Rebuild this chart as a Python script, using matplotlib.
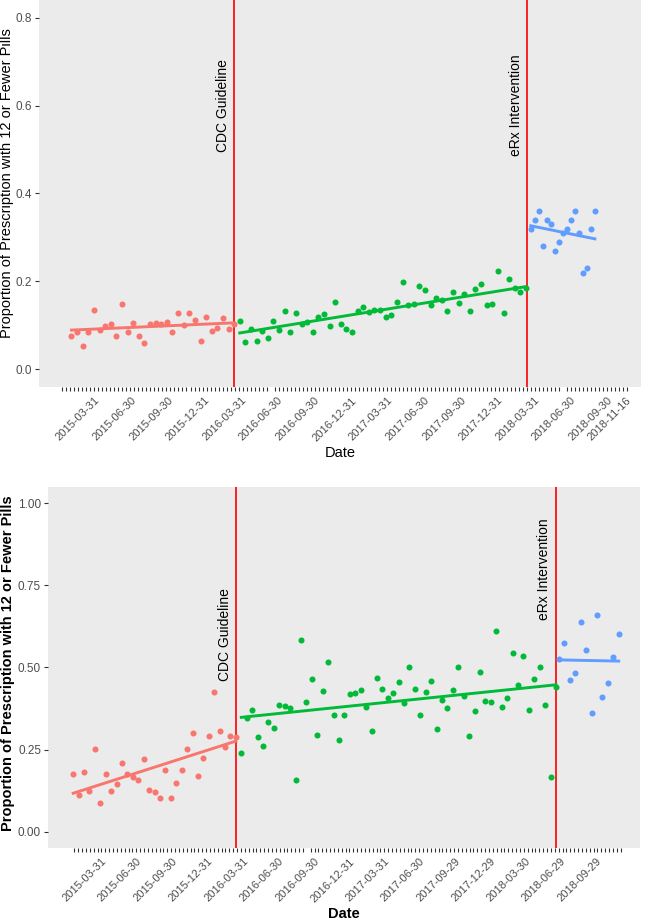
import numpy as np
import pandas as pd
import matplotlib
matplotlib.use('Agg')
import matplotlib.pyplot as plt
import matplotlib.dates as mdates
from matplotlib.transforms import ScaledTranslation

plt.rcParams['font.family'] = ['Liberation Sans', 'DejaVu Sans']

RED, GREEN, BLUE = '#F8766D', '#00BA38', '#619CFF'

# ---- panel 1 (top) : proportions per period
top_pre = [0.077, 0.085, 0.053, 0.086, 0.134, 0.089, 0.099, 0.103, 0.075, 0.149,
           0.086, 0.106, 0.076, 0.060, 0.103, 0.106, 0.103, 0.108, 0.084, 0.129,
           0.100, 0.129, 0.113, 0.065, 0.120, 0.087, 0.094, 0.116, 0.091, 0.104]
top_cdc = [0.111, 0.062, 0.091, 0.065, 0.087, 0.071, 0.111, 0.090, 0.133, 0.086,
           0.129, 0.103, 0.108, 0.086, 0.119, 0.126, 0.098, 0.153, 0.103, 0.091,
           0.086, 0.133, 0.141, 0.130, 0.136, 0.136, 0.119, 0.123, 0.153, 0.198,
           0.146, 0.148, 0.190, 0.181, 0.146, 0.163, 0.157, 0.132, 0.177, 0.151,
           0.171, 0.133, 0.183, 0.195, 0.147, 0.148, 0.224, 0.129, 0.206, 0.186,
           0.176, 0.184]
top_erx = [0.32, 0.34, 0.36, 0.28, 0.34, 0.33, 0.27, 0.29, 0.31, 0.32, 0.34, 0.36,
           0.31, 0.22, 0.23, 0.32, 0.36]
top_starts = ['2015-02-19', '2016-04-14', '2018-04-10']
top_freqs = ['14D', '14D', '10D']
top_events = ['2016-03-31', '2018-03-31']
top_labels = ['2015-03-31', '2015-06-30', '2015-09-30', '2015-12-31', '2016-03-31',
              '2016-06-30', '2016-09-30', '2016-12-31', '2017-03-31', '2017-06-30',
              '2017-09-30', '2017-12-31', '2018-03-31', '2018-06-30', '2018-09-30',
              '2018-11-16']

# ---- panel 2 (bottom)
bot_pre = [0.175, 0.113, 0.182, 0.124, 0.251, 0.088, 0.177, 0.123, 0.146, 0.208,
           0.175, 0.167, 0.157, 0.222, 0.128, 0.121, 0.101, 0.188, 0.101, 0.147,
           0.189, 0.251, 0.299, 0.170, 0.225, 0.291, 0.425, 0.305, 0.258, 0.290,
           0.288]
bot_cdc = [0.239, 0.346, 0.370, 0.289, 0.260, 0.333, 0.316, 0.387, 0.383, 0.376,
           0.156, 0.585, 0.396, 0.465, 0.294, 0.427, 0.517, 0.356, 0.278, 0.355,
           0.419, 0.421, 0.430, 0.379, 0.305, 0.467, 0.433, 0.406, 0.423, 0.457,
           0.393, 0.502, 0.433, 0.356, 0.426, 0.459, 0.313, 0.402, 0.376, 0.430,
           0.502, 0.413, 0.292, 0.368, 0.487, 0.398, 0.394, 0.610, 0.380, 0.406,
           0.544, 0.446, 0.535, 0.371, 0.466, 0.502, 0.387, 0.166, 0.440]
bot_erx = [0.526, 0.575, 0.461, 0.483, 0.640, 0.553, 0.361, 0.659, 0.409, 0.454,
           0.532, 0.603]
bot_starts = ['2015-02-05', '2016-04-14', '2018-07-13']
bot_freqs = ['14D', '14D', '14D']
bot_events = ['2016-03-31', '2018-07-04']
bot_labels = ['2015-03-31', '2015-06-30', '2015-09-30', '2015-12-31', '2016-03-31',
              '2016-06-30', '2016-09-30', '2016-12-31', '2017-03-31', '2017-06-30',
              '2017-09-29', '2017-12-29', '2018-03-30', '2018-06-29', '2018-09-29']

YLAB = 'Proportion of Prescription with 12 or Fewer Pills'


def draw_panel(ax, groups, starts, freqs, events, labels, xlim, tick_range, yticks, yfmt, ylim, bold):
    ax.set_facecolor('#EBEBEB')
    for s in ax.spines.values():
        s.set_visible(False)
    for vals, start, fq, col in zip(groups, starts, freqs, [RED, GREEN, BLUE]):
        d = pd.date_range(start, periods=len(vals), freq=fq)
        x = mdates.date2num(d)
        ax.scatter(x, vals, s=19, color=col, linewidths=0, zorder=3)
        k, b = np.polyfit(x, vals, 1)   # geom_smooth(method = lm)
        ax.plot([x[0], x[-1]], [k * x[0] + b, k * x[-1] + b], color=col, lw=2.1, zorder=3)
    for ev in events:
        ax.axvline(mdates.date2num(pd.Timestamp(ev)), color='red', lw=1.2, zorder=2)

    ax.set_xlim(mdates.date2num(pd.Timestamp(xlim[0])), mdates.date2num(pd.Timestamp(xlim[1])))
    ax.set_ylim(*ylim)
    minor = mdates.date2num(pd.date_range(tick_range[0], tick_range[1], freq='10D'))
    ax.set_xticks(minor, minor=True)
    ax.set_xticks(mdates.date2num(pd.to_datetime(labels)))
    ax.set_xticklabels(labels, rotation=45, ha='right', rotation_mode='anchor')
    ax.tick_params(axis='x', which='major', length=0, pad=6, labelsize=8, labelcolor='#4D4D4D')
    ax.tick_params(axis='x', which='minor', length=3, width=0.8, color='#333333')
    # ggplot puts the end of the rotated label a little right of the tick
    shift = ScaledTranslation(7 / 100, 0, ax.figure.dpi_scale_trans)
    for lab in ax.get_xticklabels():
        lab.set_transform(lab.get_transform() + shift)
    ax.set_yticks(yticks)
    ax.set_yticklabels([yfmt % v for v in yticks])
    ax.tick_params(axis='y', length=3, width=0.8, color='#333333', labelsize=8.5, labelcolor='#4D4D4D', pad=2)
    fw = 'bold' if bold else 'normal'
    ax.set_xlabel('Date', fontsize=10.5, fontweight=fw, labelpad=2)
    ax.set_ylabel(YLAB, fontsize=10.5, fontweight=fw)


fig = plt.figure(figsize=(6.5, 9.21), dpi=100)
W, H = 650, 921
ax1 = fig.add_axes([39 / W, 1 - 387 / H, 602 / W, 387 / H])
ax2 = fig.add_axes([48 / W, 1 - 848 / H, 592 / W, 361 / H])

draw_panel(ax1, [top_pre, top_cdc, top_erx], top_starts, top_freqs, top_events, top_labels,
           ('2014-11-30', '2019-01-10'), ('2015-01-27', '2018-12-07'),
           [0, 0.2, 0.4, 0.6, 0.8], '%.1f', (-0.04, 0.84), False)
draw_panel(ax2, [bot_pre, bot_cdc, bot_erx], bot_starts, bot_freqs, bot_events, bot_labels,
           ('2014-12-02', '2019-02-07'), ('2015-02-08', '2018-12-26'),
           [0, 0.25, 0.5, 0.75, 1.0], '%.2f', (-0.05, 1.05), True)
ax1.yaxis.set_label_coords(-0.041, 0.527)
ax2.yaxis.set_label_coords(-0.056, 0.512)

for ax, ev, ys in [(ax1, top_events, (0.6, 0.6)), (ax2, bot_events, (0.6, 0.8))]:
    for e, txt, y in zip(ev, ['CDC Guideline', 'eRx Intervention'], ys):
        ax.annotate(txt, (mdates.date2num(pd.Timestamp(e)), y), xytext=(-3, 0),
                    textcoords='offset points', rotation=90, ha='right', va='center',
                    fontsize=10, color='black')

fig.savefig('out.png', dpi=100)
